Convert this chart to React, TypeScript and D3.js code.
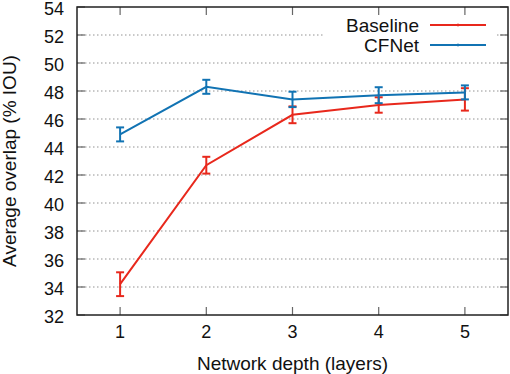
import React, { useEffect, useRef } from "react";
import * as d3 from "d3";

const depths = [1, 2, 3, 4, 5];
const baselineMean = [34.2, 42.7, 46.3, 47.0, 47.4];
const baselineErr = [0.85, 0.6, 0.6, 0.55, 0.8];
const cfnetMean = [44.9, 48.3, 47.4, 47.7, 47.9];
const cfnetErr = [0.5, 0.5, 0.55, 0.57, 0.5];
const yTicks = [32, 34, 36, 38, 40, 42, 44, 46, 48, 50, 52, 54];

const RED = "#e8281c";
const BLUE = "#1173b3";

export default function App() {
  const ref = useRef<SVGSVGElement>(null);

  useEffect(() => {
    const svg = d3.select(ref.current);
    svg.selectAll("*").remove();

    const width = 510;
    const height = 374;
    const margin = { top: 7, right: 2, bottom: 59, left: 77 };
    const x0 = margin.left;
    const x1 = width - margin.right;
    const y0 = margin.top;
    const y1 = height - margin.bottom;

    const x = d3.scaleLinear().domain([0.5, 5.5]).range([x0, x1]);
    const y = d3.scaleLinear().domain([32, 54]).range([y1, y0]);
    const font = "'Liberation Sans', Arial, sans-serif";

    const txt = (tx: number, ty: number, s: string | number, anchor: string, size: number, dy = "0") =>
      svg.append("text").attr("x", tx).attr("y", ty).attr("dy", dy).attr("text-anchor", anchor)
        .attr("font-family", font).attr("font-size", size).attr("fill", "#111").text(s);

    // grid
    svg.append("g").selectAll("line").data(yTicks.slice(1, -1)).join("line")
      .attr("x1", x0).attr("x2", x1)
      .attr("y1", d => y(d)).attr("y2", d => y(d))
      .attr("stroke", "#777").attr("stroke-width", 0.8)
      .attr("stroke-dasharray", "1.5,2.5");

    // legend box hides grid
    svg.append("rect").attr("x", 323).attr("y", 16).attr("width", 174).attr("height", 40)
      .attr("fill", "white");

    // ticks (mirrored)
    const tickLen = 8;
    const tg = svg.append("g").attr("stroke", "#666").attr("stroke-width", 1.2);
    depths.forEach(d => {
      tg.append("line").attr("x1", x(d)).attr("x2", x(d)).attr("y1", y1).attr("y2", y1 - tickLen);
      tg.append("line").attr("x1", x(d)).attr("x2", x(d)).attr("y1", y0).attr("y2", y0 + tickLen);
    });
    yTicks.forEach(d => {
      tg.append("line").attr("x1", x0).attr("x2", x0 + tickLen).attr("y1", y(d)).attr("y2", y(d));
      tg.append("line").attr("x1", x1).attr("x2", x1 - tickLen).attr("y1", y(d)).attr("y2", y(d));
    });

    // frame
    svg.append("rect").attr("x", x0).attr("y", y0).attr("width", x1 - x0).attr("height", y1 - y0)
      .attr("fill", "none").attr("stroke", "#222").attr("stroke-width", 1.5);

    // tick labels
    yTicks.forEach(d => txt(x0 - 13, y(d) + 1.5, d, "end", 18, "0.35em"));
    depths.forEach(d => txt(x(d), 338, d, "middle", 18));

    // axis titles
    txt((x0 + x1) / 2, 370, "Network depth (layers)", "middle", 19);
    svg.append("text")
      .attr("transform", `translate(16, ${(y0 + y1) / 2}) rotate(-90)`)
      .attr("text-anchor", "middle").attr("font-family", font).attr("font-size", 19)
      .attr("fill", "#111").text("Average overlap (% IOU)");

    const line = d3.line<number>().x((_, i) => x(depths[i])).y(d => y(d));
    const drawSeries = (mean: number[], err: number[], color: string) => {
      const g = svg.append("g");
      g.append("path").datum(mean).attr("d", line)
        .attr("fill", "none").attr("stroke", color).attr("stroke-width", 2);
      const cap = 4;
      mean.forEach((m, i) => {
        const cx = x(depths[i]);
        const top = y(m + err[i]);
        const bot = y(m - err[i]);
        g.append("line").attr("x1", cx).attr("x2", cx).attr("y1", top).attr("y2", bot)
          .attr("stroke", color).attr("stroke-width", 2);
        [top, bot].forEach(yy => {
          g.append("line").attr("x1", cx - cap).attr("x2", cx + cap).attr("y1", yy).attr("y2", yy)
            .attr("stroke", color).attr("stroke-width", 2);
        });
      });
    };
    drawSeries(baselineMean, baselineErr, RED);
    drawSeries(cfnetMean, cfnetErr, BLUE);

    // legend
    const legend = [
      { name: "Baseline", color: RED },
      { name: "CFNet", color: BLUE },
    ];
    legend.forEach((l, i) => {
      const ly = 25 + i * 20;
      txt(419, ly + 6.5, l.name, "end", 19);
      svg.append("line").attr("x1", 430).attr("x2", 486).attr("y1", ly).attr("y2", ly)
        .attr("stroke", l.color).attr("stroke-width", 2);
      svg.append("line").attr("x1", 458).attr("x2", 458).attr("y1", ly - 1.5).attr("y2", ly + 1.5)
        .attr("stroke", l.color).attr("stroke-width", 1);
    });
  }, []);

  return (
    <svg ref={ref} width={510} height={374}
      style={{ position: "absolute", left: 0, top: 0, background: "white" }} />
  );
}
